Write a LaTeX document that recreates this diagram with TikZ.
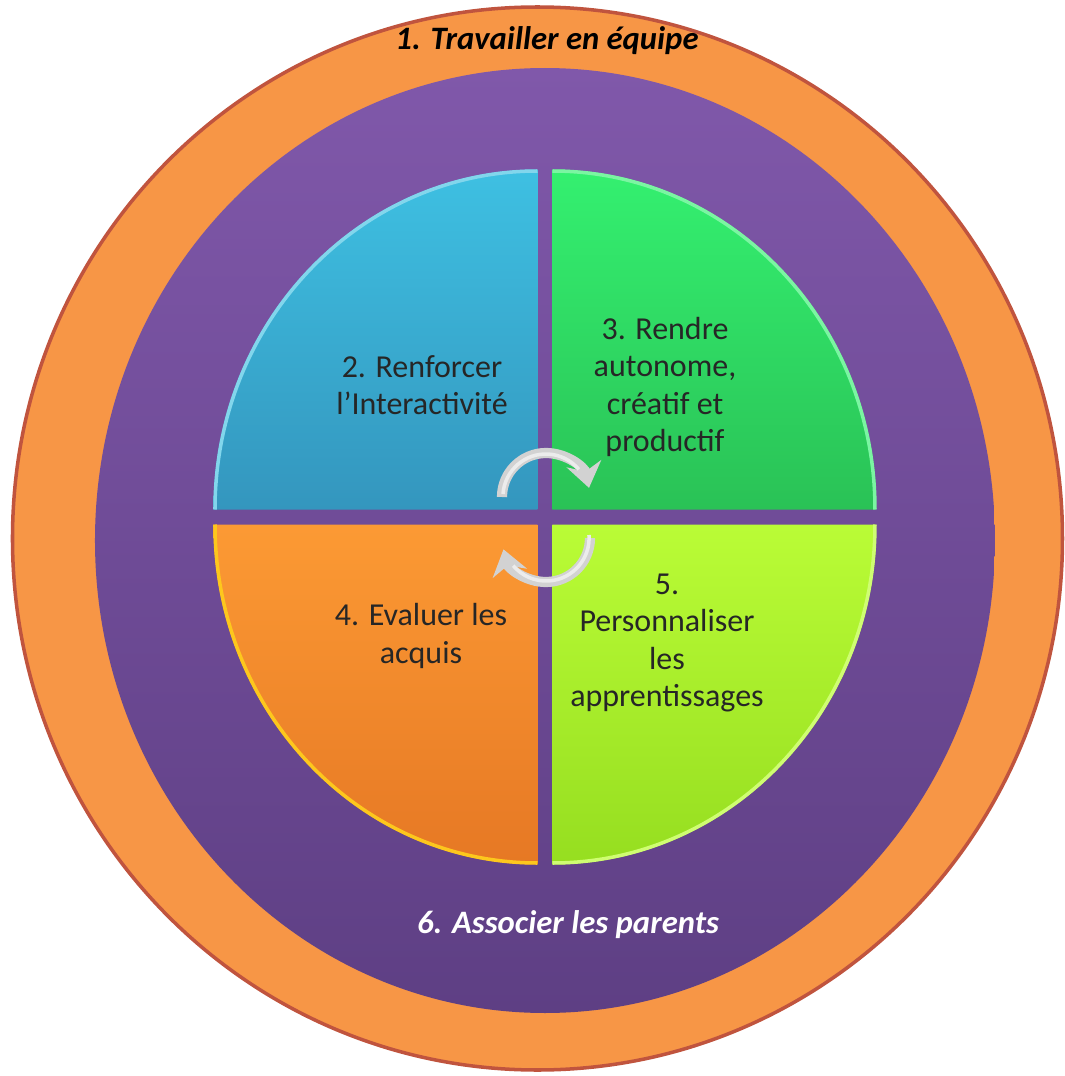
\documentclass[tikz,border=0pt]{standalone}
\usepackage{fontspec}
\setmainfont{Carlito}
\usepackage{tikz}
\usetikzlibrary{arrows.meta}
\definecolor{ringorange}{RGB}{247,150,70}
\definecolor{ringred}{RGB}{192,84,62}
\definecolor{purptop}{RGB}{128,88,170}
\definecolor{purpbot}{RGB}{94,63,132}
\definecolor{bluetop}{RGB}{62,192,226}
\definecolor{bluebot}{RGB}{52,150,190}
\definecolor{greentop}{RGB}{52,240,112}
\definecolor{greenbot}{RGB}{42,194,86}
\definecolor{oratop}{RGB}{252,154,52}
\definecolor{orabot}{RGB}{230,120,36}
\definecolor{limetop}{RGB}{186,252,54}
\definecolor{limebot}{RGB}{150,222,32}
\tikzstyle{quadtext}=[align=center,font=\fontsize{9.1}{10.6}\selectfont,text=black!85]
\tikzstyle{ringtext}=[anchor=base,font=\fontsize{9.3}{10}\selectfont\bfseries\itshape]
\tikzstyle{cyclearrow}=[line width=2.9pt,draw=gray!35,-{Stealth[length=7pt,width=10pt]}]
\newcommand{\quadNpiece}[6]{
	\shade[top color=#1, bottom color=#2] #4 -- ++(#5:3.24 and 3.40) arc[start angle=#5, end angle=#6, x radius=3.24, y radius=3.40] -- cycle;
	\draw[#3, line width=1pt] #4 ++(#5:3.225 and 3.385) arc[start angle=#5, end angle=#6, x radius=3.225, y radius=3.385];
}

\begin{document}
\begin{tikzpicture}
	\useasboundingbox (-5.45,-5.59) rectangle (5.19,5.17);
	\filldraw[fill=ringorange, draw=ringred, line width=1pt] (-0.075,-0.215) ellipse [x radius=5.25, y radius=5.315];
	\shade[top color=purptop, bottom color=purpbot] (0,-0.235) ellipse [x radius=4.50, y radius=4.725];
	\quadNpiece{bluetop}{bluebot}{bluetop!65!white}{(-0.075,0.075)}{180}{90}
	\quadNpiece{greentop}{greenbot}{greentop!65!white}{(0.075,0.075)}{90}{0}
	\quadNpiece{oratop}{orabot}{oratop!55!yellow}{(-0.075,-0.075)}{270}{180}
	\quadNpiece{limetop}{limebot}{limetop!70!white}{(0.075,-0.075)}{0}{-90}
	\draw[cyclearrow] (-0.43,0.20) arc[start angle=180, end angle=12, radius=0.44];
	\draw[white!85!gray, line width=1pt] (-0.42,0.23) arc[start angle=176, end angle=40, radius=0.43];
	\draw[cyclearrow] (0.45,-0.21) arc[start angle=0, end angle=-165, radius=0.44];
	\draw[white!85!gray, line width=1pt] (0.44,-0.18) arc[start angle=4, end angle=-140, radius=0.43];
	\node[ringtext] (team) at (0.02,4.67) {1. Travailler en équipe};
	\node[ringtext, text=white] (parents) at (0.23,-4.16) {6. Associer les parents};
	\node[quadtext] (renf) at (-1.23,1.32) {2. Renforcer\\l’Interactivité};
	\node[quadtext] (autonome) at (1.20,1.30) {3. Rendre\\autonome,\\créatif et\\productif};
	\node[quadtext] (evaluer) at (-1.24,-1.19) {4. Evaluer les\\acquis};
	\node[quadtext] (perso) at (1.22,-1.26) {5.\\Personnaliser\\les\\apprentissages};
\end{tikzpicture}
\end{document}
